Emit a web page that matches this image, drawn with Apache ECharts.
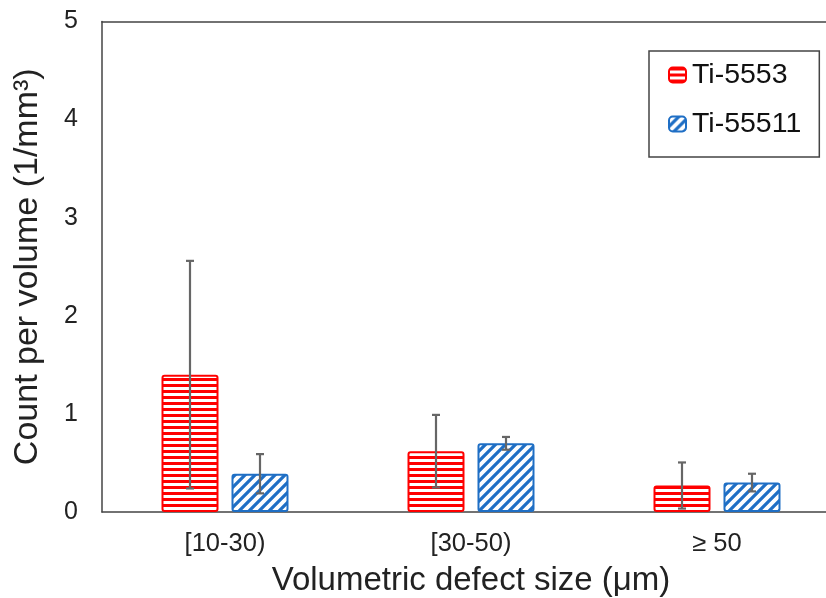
<!DOCTYPE html>
<html>
<head>
<meta charset="utf-8">
<script src="https://cdn.jsdelivr.net/npm/echarts@6/dist/echarts.min.js"></script>
<style>
html,body{margin:0;padding:0;background:#fff;}
#main{width:826px;height:598px;}
</style>
</head>
<body>
<div id="main"></div>
<script>
// ---- data ----
var categories = ['[10-30)', '[30-50)', '\u2265 50'];
var seriesNames = ['Ti-5553', 'Ti-55511'];
var ti5553 = [1.40, 0.62, 0.27];
var ti5553Err = [1.16, 0.37, 0.235];
var ti55511 = [0.39, 0.70, 0.30];
var ti55511Err = [0.20, 0.065, 0.09];
var yTicks = [0, 1, 2, 3, 4, 5];

// ---- styles ----
var RED = '#ff0000';
var BLUE = '#1f6fc5';
var FONT = "'Liberation Sans', Arial, sans-serif";
var BAR_W = 57;
var BAR_GAP = 13;
var OFF = (BAR_W + BAR_GAP) / 2;

function hPattern() {
  var c = document.createElement('canvas');
  c.width = 6; c.height = 6;
  var g = c.getContext('2d');
  g.fillStyle = '#fff'; g.fillRect(0, 0, 6, 6);
  g.fillStyle = RED; g.fillRect(0, 0, 6, 3);
  return c;
}
function dPattern() {
  var s = 10;
  var c = document.createElement('canvas');
  c.width = s; c.height = s;
  var g = c.getContext('2d');
  g.fillStyle = '#fff'; g.fillRect(0, 0, s, s);
  g.strokeStyle = BLUE; g.lineWidth = 3.2;
  g.beginPath();
  g.moveTo(-2, s + 2); g.lineTo(s + 2, -2);
  g.moveTo(-2, 2); g.lineTo(2, -2);
  g.moveTo(s - 2, s + 2); g.lineTo(s + 2, s - 2);
  g.stroke();
  return c;
}

function errData(vals, errs) {
  return vals.map(function (v, i) { return [i, v, Math.max(0, v - errs[i]), v + errs[i]]; });
}
function errRender(offset) {
  return function (params, api) {
    var i = api.value(0);
    var lo = api.coord([i, api.value(2)]);
    var hi = api.coord([i, api.value(3)]);
    var x = lo[0] + offset;
    var cap = 4;
    var st = { stroke: '#666', lineWidth: 2.2 };
    return {
      type: 'group',
      children: [
        { type: 'line', shape: { x1: x, y1: lo[1], x2: x, y2: hi[1] }, style: st },
        { type: 'line', shape: { x1: x - cap, y1: hi[1], x2: x + cap, y2: hi[1] }, style: st },
        { type: 'line', shape: { x1: x - cap, y1: lo[1], x2: x + cap, y2: lo[1] }, style: st }
      ]
    };
  };
}

var chart = echarts.init(document.getElementById('main'), null, { renderer: 'canvas' });
chart.setOption({
  animation: false,
  backgroundColor: '#fff',
  grid: { left: 102, top: 21.5, width: 738, height: 490.5, containLabel: false, outerBoundsMode: 'none' },
  legend: {
    data: seriesNames,
    orient: 'vertical',
    left: 649, top: 51,
    padding: [9, 18, 18, 19],
    itemGap: 19,
    itemWidth: 17, itemHeight: 15,
    borderColor: '#444', borderWidth: 1.5, borderRadius: 0,
    backgroundColor: '#fff',
    textStyle: { fontFamily: FONT, fontSize: 28.5, color: '#111', lineHeight: 30, padding: [0, 0, 0, 1] }
  },
  xAxis: [{
    type: 'category',
    data: categories,
    axisLine: { show: true, lineStyle: { color: '#444', width: 1.5 } },
    axisTick: { show: false },
    axisLabel: { fontFamily: FONT, fontSize: 25.5, color: '#222', margin: 19 },
    name: 'Volumetric defect size (\u03bcm)',
    nameLocation: 'middle',
    nameGap: 52,
    nameTextStyle: { fontFamily: FONT, fontSize: 33, color: '#222' }
  }, {
    type: 'category',
    data: categories,
    position: 'top',
    axisLine: { show: true, lineStyle: { color: '#444', width: 1.5 } },
    axisTick: { show: false },
    axisLabel: { show: false }
  }],
  yAxis: {
    type: 'value',
    min: yTicks[0], max: yTicks[yTicks.length - 1], interval: 1,
    splitLine: { show: false },
    axisLine: { show: true, lineStyle: { color: '#444', width: 1.5 } },
    axisTick: { show: false },
    axisLabel: { fontFamily: FONT, fontSize: 25, color: '#222', margin: 24 },
    name: 'Count per volume (1/mm\u00b3)',
    nameLocation: 'middle',
    nameGap: 57,
    nameRotate: 90,
    nameTextStyle: { fontFamily: FONT, fontSize: 34, color: '#222' }
  },
  series: [{
    name: seriesNames[0],
    type: 'bar',
    data: ti5553,
    barWidth: BAR_W,
    barGap: (BAR_GAP / BAR_W * 100).toFixed(1) + '%',
    itemStyle: { color: { image: hPattern(), repeat: 'repeat' }, borderColor: RED, borderWidth: 2, borderRadius: 2 }
  }, {
    name: seriesNames[1],
    type: 'bar',
    data: ti55511,
    barWidth: BAR_W,
    itemStyle: { color: { image: dPattern(), repeat: 'repeat' }, borderColor: BLUE, borderWidth: 2, borderRadius: 2 }
  }, {
    type: 'custom',
    data: errData(ti5553, ti5553Err),
    encode: { x: 0, y: [1, 2, 3] },
    renderItem: errRender(-OFF),
    z: 10
  }, {
    type: 'custom',
    data: errData(ti55511, ti55511Err),
    encode: { x: 0, y: [1, 2, 3] },
    renderItem: errRender(OFF),
    z: 10
  }]
});
</script>
</body>
</html>
